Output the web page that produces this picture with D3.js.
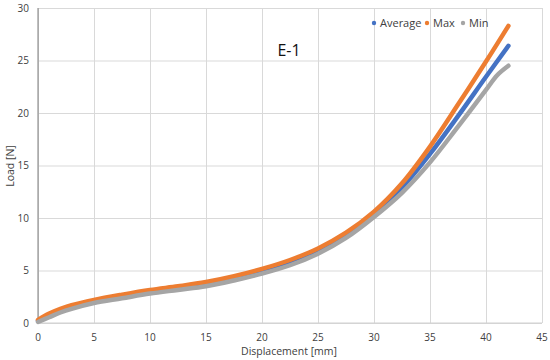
<!DOCTYPE html>
<html>
<head>
<meta charset="utf-8">
<script src="https://cdn.jsdelivr.net/npm/d3@7"></script>
<style>
  body { margin: 0; background: #fff; }
  text { font-family: "Open Sans", "Noto Sans", sans-serif; fill: #404040; }
</style>
</head>
<body>
<svg id="chart" width="550" height="360"></svg>
<script>
// displacement [mm] / load [N]
const avgPts = [[0,0.2],[1,0.75],[2,1.2],[3,1.55],[5,2.05],[7.5,2.55],[10,3.0],[12.5,3.35],[15,3.75],[17.5,4.3],[20,4.95],[22.5,5.8],[25,6.85],[27.5,8.35],[30,10.4],[32.5,12.9],[35,16.1],[37.5,19.7],[40,23.45],[42,26.4]];
const maxPts = [[0,0.3],[1,0.9],[2,1.35],[3,1.7],[5,2.2],[7.5,2.7],[10,3.15],[12.5,3.5],[15,3.9],[17.5,4.45],[20,5.15],[22.5,6.0],[25,7.1],[27.5,8.6],[30,10.6],[32.5,13.3],[35,16.8],[37.5,20.8],[40,24.9],[42,28.3]];
const minPts = [[0,0.1],[1,0.55],[2,1.0],[3,1.35],[5,1.9],[7.5,2.35],[10,2.8],[12.5,3.15],[15,3.5],[17.5,4.05],[20,4.7],[22.5,5.5],[25,6.6],[27.5,8.1],[30,10.1],[32.5,12.4],[35,15.3],[37.5,18.7],[40,22.2],[41,23.6],[42,24.5]];

const seriesNames = ["Average", "Max", "Min"];
const seriesColors = ["#4472C4", "#ED7D31", "#A5A5A5"];
const xTicks = [0, 5, 10, 15, 20, 25, 30, 35, 40, 45];
const yTicks = [0, 5, 10, 15, 20, 25, 30];

const svg = d3.select("#chart");
const plotL = 38, plotR = 542, plotT = 8, plotB = 323;

const x = d3.scaleLinear().domain([0, 45]).range([plotL, plotR]);
const y = d3.scaleLinear().domain([0, 30]).range([plotB, plotT]);

// grid
svg.append("g")
    .attr("transform", `translate(0,${plotB})`)
    .call(d3.axisBottom(x).tickValues(xTicks).tickSize(-(plotB - plotT)).tickFormat(""))
    .call(g => g.select(".domain").remove())
    .call(g => g.selectAll("line").attr("stroke", "#d9d9d9"));
svg.append("g")
    .attr("transform", `translate(${plotL},0)`)
    .call(d3.axisLeft(y).tickValues(yTicks).tickSize(-(plotR - plotL)).tickFormat(""))
    .call(g => g.select(".domain").remove())
    .call(g => g.selectAll("line").attr("stroke", "#d9d9d9"));

// axis lines
svg.append("line").attr("x1", plotL).attr("x2", plotR).attr("y1", plotB).attr("y2", plotB)
    .attr("stroke", "#d0d0d0");
svg.append("line").attr("x1", plotL).attr("x2", plotL).attr("y1", plotT).attr("y2", plotB)
    .attr("stroke", "#7f7f7f");

// tick labels
svg.append("g").selectAll("text").data(xTicks).join("text")
    .attr("x", d => x(d)).attr("y", 341)
    .attr("text-anchor", "middle").attr("font-size", 10)
    .text(d => d);
svg.append("g").selectAll("text").data(yTicks).join("text")
    .attr("x", 29).attr("y", d => y(d) + 3.5)
    .attr("text-anchor", "end").attr("font-size", 10)
    .text(d => d);

// axis titles
svg.append("text").attr("x", 289).attr("y", 355)
    .attr("text-anchor", "middle").attr("font-size", 10.5)
    .text("Displacement [mm]");
svg.append("text")
    .attr("transform", "translate(14,166) rotate(-90)")
    .attr("text-anchor", "middle").attr("font-size", 10.5)
    .text("Load [N]");

// title
svg.append("text").attr("x", 289).attr("y", 56)
    .attr("text-anchor", "middle").attr("font-size", 16)
    .style("fill", "#111")
    .text("E-1");

// curves
const line = d3.line().x(d => x(d[0])).y(d => y(d[1])).curve(d3.curveCatmullRom);
[avgPts, maxPts, minPts].forEach((pts, i) => {
    svg.append("path").datum(pts)
        .attr("d", line)
        .attr("fill", "none")
        .attr("stroke", seriesColors[i])
        .attr("stroke-width", 4.5)
        .attr("stroke-linecap", "round");
});

// legend
const legendX = [374, 427, 463];
const lg = svg.append("g").selectAll("g").data(seriesNames).join("g")
    .attr("transform", (d, i) => `translate(${legendX[i]},23)`);
lg.append("circle").attr("r", 2.2).attr("fill", (d, i) => seriesColors[i]);
lg.append("text").attr("x", 6).attr("y", 4).attr("font-size", 11)
    .text(d => d);
</script>
</body>
</html>
